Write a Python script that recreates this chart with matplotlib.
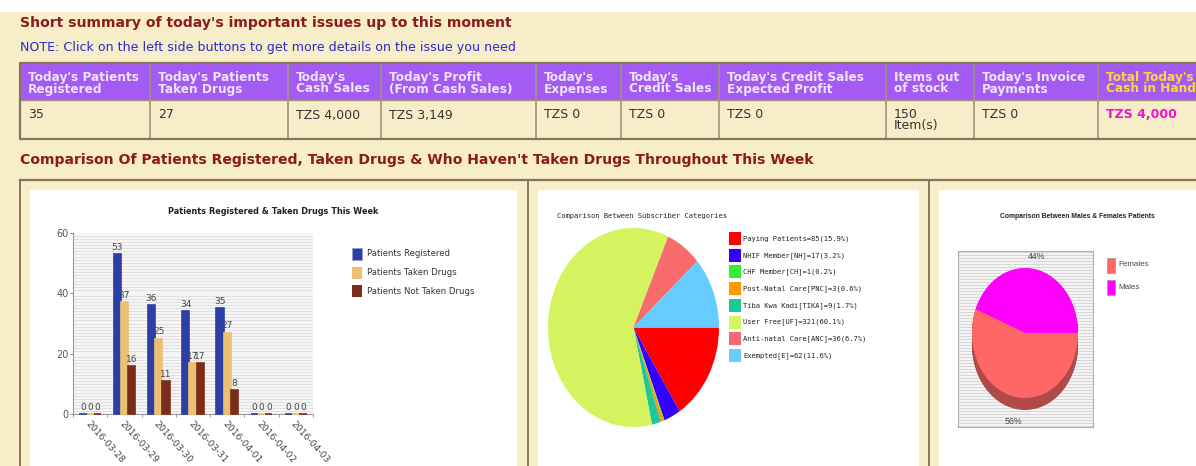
import numpy as np
import matplotlib
matplotlib.use("Agg")
import matplotlib.pyplot as plt
from matplotlib.patches import Rectangle

W, H = 1196, 466

# summary table
headers = [("Today's Patients", "Registered"), ("Today's Patients", "Taken Drugs"),
           ("Today's", "Cash Sales"), ("Today's Profit", "(From Cash Sales)"),
           ("Today's", "Expenses"), ("Today's", "Credit Sales"),
           ("Today's Credit Sales", "Expected Profit"), ("Items out", "of stock"),
           ("Today's Invoice", "Payments"), ("Total Today's", "Cash in Hand")]
values = ["35", "27", "TZS 4,000", "TZS 3,149", "TZS 0", "TZS 0", "TZS 0",
          "150\nItem(s)", "TZS 0", "TZS 4,000"]
col_edges = [20, 150, 288, 381, 536, 621, 719, 886, 974, 1098, 1196]

# weekly bar chart
days = ["2016-03-28", "2016-03-29", "2016-03-30", "2016-03-31",
        "2016-04-01", "2016-04-02", "2016-04-03"]
registered = [0, 53, 36, 34, 35, 0, 0]
taken = [0, 37, 25, 17, 27, 0, 0]
not_taken = [0, 16, 11, 17, 8, 0, 0]
bar_series = ["Patients Registered", "Patients Taken Drugs", "Patients Not Taken Drugs"]
bar_colors = ["#2b3fa6", "#ecc072", "#7a2d18"]

# subscriber categories
categories = ["Paying Patients", "NHIF Member[NH]", "CHF Member[CH]",
              "Post-Natal Care[PNC]", "Tiba Kwa Kadi[TIKA]", "User Free[UF]",
              "Anti-natal Care[ANC]", "Exempted[E]"]
counts = [85, 17, 1, 3, 9, 321, 36, 62]
cat_colors = ["#ff0000", "#3300ff", "#33ee33", "#ff9900", "#1ac99a",
              "#d4f35e", "#f76b6b", "#66ccff"]

# gender split
genders = ["Males", "Females"]
gender_share = [44, 56]
gender_colors = {"Males": "#ff00ff", "Females": "#ff6666"}
gender_shadow = {"Males": "#a8329e", "Females": "#b04a4a"}

CREAM = "#f8edc9"
DARKRED = "#8b1c1c"
PURPLE = "#a35bf4"
BORDER = "#857658"

fig = plt.figure(figsize=(W / 100, H / 100), dpi=100)
fig.patch.set_facecolor(CREAM)


def add_px_axes(x0, y0, x1, y1):
    return fig.add_axes([x0 / W, 1 - y1 / H, (x1 - x0) / W, (y1 - y0) / H])


bg = add_px_axes(0, 0, W, H)
bg.set_xlim(0, W)
bg.set_ylim(H, 0)
bg.axis("off")
bg.add_patch(Rectangle((0, 0), W, 12, fc="white", ec="none"))

bg.text(20, 23, "Short summary of today's important issues up to this moment",
        color=DARKRED, fontsize=10.1, fontweight="bold", va="center")
bg.text(20, 47, "NOTE: Click on the left side buttons to get more details on the issue you need",
        color="#2a2ad0", fontsize=9.1, va="center")

# table
bg.add_patch(Rectangle((20, 63), W - 20, 37, fc=PURPLE, ec="none"))
for x in col_edges[1:-1]:
    bg.plot([x, x], [63, 139], color="#a2937a", lw=1.2)
bg.plot([20, W], [100, 100], color="#a2937a", lw=1)
bg.plot([W, 20, 20, W], [63, 63, 139, 139], color=BORDER, lw=1.6)
for i, ((l1, l2), val) in enumerate(zip(headers, values)):
    x = col_edges[i] + 8
    hc = "#ffd53a" if i == len(headers) - 1 else "#efe4ff"
    bg.text(x, 77.5, l1, color=hc, fontsize=8.7, fontweight="bold", va="center")
    bg.text(x, 89, l2, color=hc, fontsize=8.7, fontweight="bold", va="center")
    if i == len(values) - 1:
        bg.text(x, 115, val, color="#f010d8", fontsize=9, fontweight="bold", va="center")
    else:
        bg.text(x, 120 if "\n" in val else 115, val, color="#333333", fontsize=9,
                va="center", linespacing=0.8)

bg.text(20, 160, "Comparison Of Patients Registered, Taken Drugs & Who Haven't Taken Drugs Throughout This Week",
        color=DARKRED, fontsize=10.1, fontweight="bold", va="center")

# panel frames
bg.plot([20, W], [180, 180], color=BORDER, lw=1.6)
for x in [20, 528, 929]:
    bg.plot([x, x], [180, H], color=BORDER, lw=1.4)
for x0, x1 in [(30, 517), (538, 919), (939, W)]:
    bg.add_patch(Rectangle((x0, 190), x1 - x0, H - 190, fc="white", ec="none"))

# ---- bar chart
bg.text(273, 212, "Patients Registered & Taken Drugs This Week", fontsize=5.9,
        fontweight="bold", ha="center", va="center", color="#222222")
ax1 = add_px_axes(73, 233, 313, 414)
ax1.set_facecolor("#f5f5f5")
xs = np.arange(len(days))
bw = 0.21
for k, (series, c) in enumerate(zip([registered, taken, not_taken], bar_colors)):
    bars = ax1.bar(xs + (k - 1) * bw, series, bw, color=c, edgecolor=c, lw=1.2,
                   zorder=3, clip_on=False)
    ax1.bar_label(bars, padding=1.5, fontsize=6.5, color="#444444")
ax1.set_xlim(-0.5, len(days) - 0.5)
ax1.set_ylim(0, 60)
ax1.set_yticks([0, 20, 40, 60])
ax1.set_yticks(np.arange(0, 61, 1), minor=True)
ax1.yaxis.grid(True, which="minor", color="#dcdcdc", lw=0.6)
ax1.set_axisbelow(True)
ax1.tick_params(axis="y", which="minor", length=0)
ax1.tick_params(axis="y", which="major", labelsize=7, labelcolor="#555555",
                length=2, color="#888888", pad=1)
ax1.set_xticks(xs)
ax1.set_xticklabels(days, rotation=-48, ha="left", va="top", rotation_mode="anchor",
                    fontsize=6.6, color="#444444")
ax1.tick_params(axis="x", which="major", length=0, pad=4)
ax1.set_xticks(np.arange(-0.5, len(days), 1), minor=True)
ax1.tick_params(axis="x", which="minor", length=2.5, color="#888888")
for s in ["top", "right"]:
    ax1.spines[s].set_visible(False)
for s in ["left", "bottom"]:
    ax1.spines[s].set_color("#999999")
    ax1.spines[s].set_linewidth(0.8)
    ax1.spines[s].set_zorder(2)

for i, (name, c) in enumerate(zip(bar_series, bar_colors)):
    y = 254 + i * 18.5
    bg.add_patch(Rectangle((352, y - 6), 10, 12, fc=c, ec="#9999cc" if i == 0 else "none", lw=0.6))
    bg.text(367, y, name, fontsize=6.1, va="center", color="#333333")

# ---- subscriber pie
total = sum(counts)
bg.text(557, 216, "Comparison Between Subscriber Categories", family="DejaVu Sans Mono",
        fontsize=5.1, va="center", color="#222222")
ax2 = add_px_axes(548, 228, 719, 427)
ax2.pie(counts, colors=cat_colors, startangle=0, counterclock=False,
        wedgeprops=dict(linewidth=0))
ax2.set_aspect("auto")
ax2.set_xlim(-1, 1)
ax2.set_ylim(-1, 1)
for i, (name, n, c) in enumerate(zip(categories, counts, cat_colors)):
    y = 238.5 + i * 16.7
    bg.add_patch(Rectangle((729, y - 6.5), 12, 13, fc=c, ec="none"))
    bg.text(743, y, f"{name}={n}({100 * n / total:.1f}%)", family="DejaVu Sans Mono",
            fontsize=5.1, va="center", color="#222222")

# ---- gender pie
narrow = ["Liberation Sans", "DejaVu Sans"]
bg.text(1077, 217, "Comparison Between Males & Females Patients", family=narrow,
        fontsize=4.9, fontweight="bold", ha="center", va="center", color="#222222")
box = add_px_axes(958, 251, 1093, 427)
box.set_facecolor("#f3f3f3")
box.set_xlim(0, 1)
box.set_ylim(0, 176)
box.hlines(np.arange(1.5, 176, 3), 0, 1, color="#d2d2d2", lw=0.6)
box.set_xticks([])
box.set_yticks([])
for s in box.spines.values():
    s.set_color("#b0b0b0")
    s.set_linewidth(0.8)

depth = 0.185
ax3 = add_px_axes(972, 268, 1078, 410)
ax3.axis("off")
for d in np.linspace(depth, 0.005, 14):
    ax3.pie(gender_share, colors=[gender_shadow[g] for g in genders], startangle=0,
            center=(0, -d), wedgeprops=dict(linewidth=0))
_, texts = ax3.pie(gender_share, colors=[gender_colors[g] for g in genders], startangle=0,
                   labels=[f"{v}%" for v in gender_share], labeldistance=1.2,
                   wedgeprops=dict(linewidth=0),
                   textprops=dict(family=narrow, fontsize=6.3, color="#444444"))
for t in texts:
    xt, yt = t.get_position()
    t.set_ha("center")
    t.set_va("center")
    if yt < 0:
        t.set_position((xt, yt - depth))
ax3.set_aspect("auto")
ax3.set_xlim(-1, 1)
ax3.set_ylim(-1 - depth, 1)

for i, g in enumerate(["Females", "Males"]):
    y = 265 + i * 22.5
    bg.add_patch(Rectangle((1107, y - 7.5), 8, 15, fc=gender_colors[g], ec="#999999", lw=0.5))
    bg.text(1118, y, g, family=narrow, fontsize=5.8, va="center", color="#444444")

fig.savefig("out.png", dpi=100, facecolor=fig.get_facecolor())
